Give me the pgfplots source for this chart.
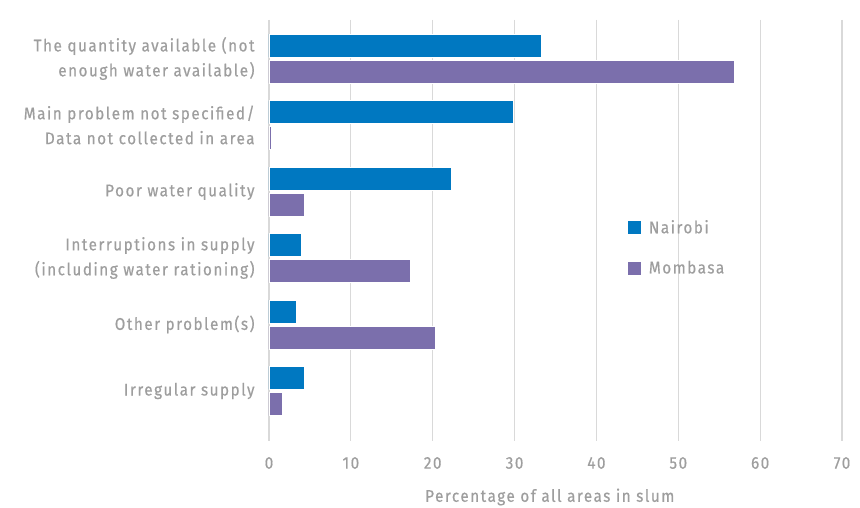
\documentclass[border=0pt]{standalone}
\usepackage{pgfplots}
\pgfplotsset{compat=1.18}
\usepackage{fontspec}
\setmainfont[FakeStretch=0.9, LetterSpace=9, FakeBold=0.6]{Fira Sans}
\definecolor{nai}{RGB}{0,120,193}
\definecolor{mom}{RGB}{123,111,172}
\definecolor{txt}{RGB}{158,158,158}
\definecolor{grd}{RGB}{217,217,217}
\begin{document}
\begin{tikzpicture}
\path[use as bounding box] (-269bp,-67bp) rectangle (591bp,441bp);
\begin{axis}[
  at={(286.5bp,210.5bp)}, anchor=center,
  scale only axis, width=573bp, height=421bp,
  xmin=0, xmax=70, xtick={0,10,...,70},
  xmajorgrids, grid style={grd, line width=1.2bp},
  ymin=-0.579, ymax=5.752, y dir=reverse,
  ytick={0,1,2,3,4,5},
  yticklabels={{The quantity available (not\\enough water available)},
               {Main problem not specified/\\Data not collected in area},
               {Poor water quality},
               {Interruptions in supply\\(including water rationing)},
               {Other problem(s)},
               {Irregular supply}},
  axis line style={draw=none}, tick style={draw=none},
  /pgf/number format/assume math mode=true,
  ticklabel style={font=\fontsize{17}{25}\selectfont, text=txt},
  yticklabel style={anchor=east, align=right, inner sep=0pt, xshift=-10bp},
  xticklabel style={anchor=center, yshift=-22bp},
  xlabel={Percentage of all areas in slum},
  xlabel style={at={(axis description cs:0.49,-0.133)}, anchor=center, font=\fontsize{17}{20}\selectfont, text=txt},
  xbar, bar width=23bp,
  legend style={at={(axis description cs:0.625,0.53)}, anchor=north west, draw=none, fill=none,
    font=\fontsize{17}{20}\selectfont, text=txt, row sep=22bp, inner sep=0pt},
  legend cell align=left,
  legend image code/.code={\fill[#1] (0bp,-7bp) rectangle (14bp,7bp); \path (19bp,0bp);},
]
\addplot[fill=nai, draw=white, line width=0.6bp, bar shift=13bp] coordinates {
  (33.3,0) (29.9,1) (22.3,2) (3.9,3) (3.3,4) (4.3,5)};
\addlegendentry{Nairobi}
\addplot[fill=mom, draw=white, line width=0.6bp, bar shift=-13bp] coordinates {
  (56.8,0) (0.3,1) (4.3,2) (17.3,3) (20.3,4) (1.6,5)};
\addlegendentry{Mombasa}
\end{axis}
\end{tikzpicture}
\end{document}
